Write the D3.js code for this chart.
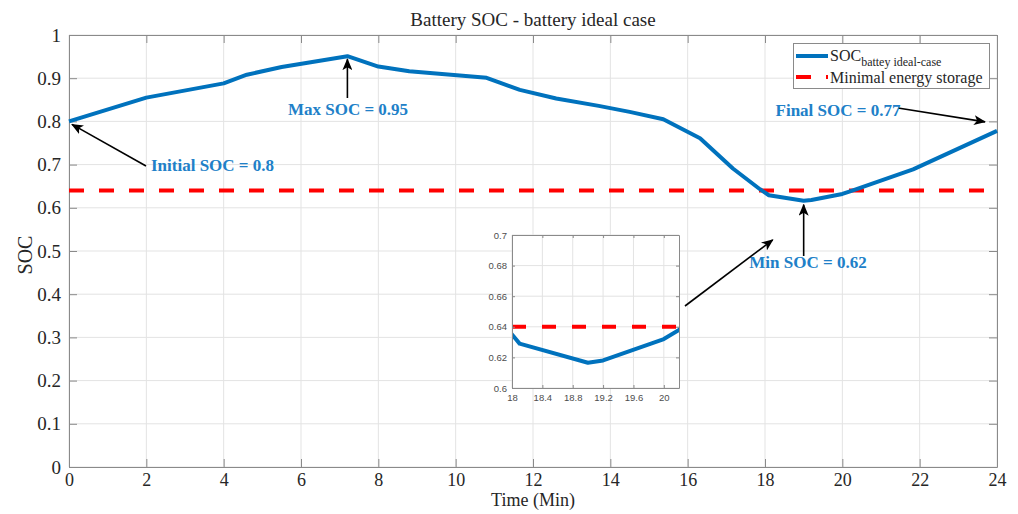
<!DOCTYPE html>
<html><head><meta charset="utf-8">
<script src="https://cdn.jsdelivr.net/npm/d3@7"></script>
<style>body{margin:0;background:#fff}svg{display:block}</style>
</head><body><svg id="c" width="1018" height="514"></svg>
<script>
const time = [0, 2, 4, 4.6, 5.5, 7.2, 8, 8.8, 10.8, 11.14, 11.66, 12.6, 13.7, 14.5, 15.37, 16.32, 17.17, 17.87, 18.0, 18.1, 19.0, 19.2, 20.0, 20.2, 21.83, 24];
const soc  = [0.8, 0.855, 0.888, 0.908, 0.926, 0.951, 0.927, 0.916, 0.901, 0.89, 0.873, 0.853, 0.836, 0.822, 0.805, 0.761, 0.691, 0.643, 0.635, 0.629, 0.6165, 0.618, 0.632, 0.638, 0.689, 0.778];
const minStorage = 0.64;
const xTicks = [0, 2, 4, 6, 8, 10, 12, 14, 16, 18, 20, 22, 24];
const yTicks = [0, 0.1, 0.2, 0.3, 0.4, 0.5, 0.6, 0.7, 0.8, 0.9, 1];
const insetXTicks = [18, 18.4, 18.8, 19.2, 19.6, 20];
const insetYTicks = [0.6, 0.62, 0.64, 0.66, 0.68, 0.7];
const annotations = [
  {text: "Initial SOC = 0.8", t: 0, v: 0.8},
  {text: "Max SOC = 0.95", t: 7.2, v: 0.951},
  {text: "Final SOC = 0.77", t: 24, v: 0.778},
  {text: "Min SOC = 0.62", t: 19.0, v: 0.6165}
];

const svg = d3.select("#c");
const serif = "'Liberation Serif','DejaVu Serif',serif";
const blue = "#0072BD", red = "#FF0000", axisCol = "#8a8a8a", gridCol = "#e3e3e3";
const L = 69, R = 997, T = 35, B = 467;
const x = d3.scaleLinear().domain([0, 24]).range([L, R]);
const y = d3.scaleLinear().domain([0, 1]).range([B, T]);

// grid
const g = svg.append("g");
g.selectAll(".gx").data(xTicks).join("line").attr("x1", d => x(d)).attr("x2", d => x(d))
  .attr("y1", T).attr("y2", B).attr("stroke", gridCol);
g.selectAll(".gy").data(yTicks).join("line").attr("y1", d => y(d)).attr("y2", d => y(d))
  .attr("x1", L).attr("x2", R).attr("stroke", gridCol);

// axes (inward ticks)
function styleAxis(sel, fs){ sel.select(".domain").attr("stroke", axisCol); sel.selectAll(".tick line").attr("stroke", axisCol);
  sel.selectAll("text").attr("fill", "#262626").attr("font-family", serif).attr("font-size", fs || 19); }
const xa = svg.append("g").attr("transform", `translate(0,${B})`)
  .call(d3.axisBottom(x).tickValues(xTicks).tickSize(-8).tickPadding(6).tickFormat(d3.format("d")).tickSizeOuter(0));
styleAxis(xa, 18);
const ya = svg.append("g").attr("transform", `translate(${L},0)`)
  .call(d3.axisLeft(y).tickValues(yTicks).tickSize(-8).tickPadding(8).tickFormat(d => d === 0 || d === 1 ? d3.format("d")(d) : d3.format(".1f")(d)).tickSizeOuter(0));
styleAxis(ya);
svg.append("g").attr("transform", `translate(0,${T})`)
  .call(d3.axisTop(x).tickValues(xTicks).tickSize(-8).tickFormat("").tickSizeOuter(0)).call(styleAxis);
svg.append("g").attr("transform", `translate(${R},0)`)
  .call(d3.axisRight(y).tickValues(yTicks).tickSize(-8).tickFormat("").tickSizeOuter(0)).call(styleAxis);

// lines
const line = d3.line().x((d, i) => x(time[i])).y(d => y(d));
svg.append("line").attr("x1", x(0)).attr("x2", x(24)).attr("y1", y(minStorage)).attr("y2", y(minStorage))
  .attr("stroke", red).attr("stroke-width", 4).attr("stroke-dasharray", "15 15");
svg.append("path").datum(soc).attr("d", line).attr("fill", "none").attr("stroke", blue).attr("stroke-width", 4).attr("stroke-linejoin", "round");

// title & labels
svg.append("text").attr("x", 533).attr("y", 26).attr("text-anchor", "middle").attr("font-family", serif).attr("font-size", 19).attr("fill", "#262626").text("Battery SOC - battery ideal case");
svg.append("text").attr("x", 533).attr("y", 506).attr("text-anchor", "middle").attr("font-family", serif).attr("font-size", 18).attr("fill", "#262626").text("Time (Min)");
svg.append("text").attr("transform", "translate(32,255) rotate(-90)").attr("text-anchor", "middle").attr("font-family", serif).attr("font-size", 20).attr("fill", "#262626").text("SOC");

// arrow marker
const defs = svg.append("defs");
defs.append("marker").attr("id", "ah").attr("viewBox", "0 0 12 10").attr("refX", 11).attr("refY", 5)
  .attr("markerWidth", 12).attr("markerHeight", 10).attr("markerUnits", "userSpaceOnUse").attr("orient", "auto")
  .append("path").attr("d", "M0,0 L12,5 L0,10 L3,5 Z").attr("fill", "#000");

function arrow(x1, y1, x2, y2){
  svg.append("line").attr("x1", x1).attr("y1", y1).attr("x2", x2).attr("y2", y2)
    .attr("stroke", "#000").attr("stroke-width", 1.6).attr("marker-end", "url(#ah)");
}
function label(txt, xx, yy, anchor){
  svg.append("text").attr("x", xx).attr("y", yy).attr("text-anchor", anchor || "start").attr("font-family", serif)
    .attr("font-weight", "bold").attr("font-size", 17).attr("fill", "#2080C8").text(txt);
}
// Initial
arrow(146, 166, x(annotations[0].t) + 3, y(annotations[0].v) + 3);
label(annotations[0].text, 151, 171);
// Max
arrow(x(annotations[1].t), 98, x(annotations[1].t), y(annotations[1].v) + 3);
label(annotations[1].text, 348, 115, "middle");
// Final
arrow(898, 108, x(annotations[2].t) - 12, y(annotations[2].v) - 9);
label(annotations[2].text, 838, 116, "middle");
// Min
arrow(x(annotations[3].t), 256, x(annotations[3].t), y(annotations[3].v) + 4);
label(annotations[3].text, 808, 268, "middle");
// inset pointer
arrow(685, 306, x(18.2), y(0.6) + 32);

// legend
const lg = svg.append("g");
lg.append("rect").attr("x", 793.5).attr("y", 43.5).attr("width", 196).attr("height", 45).attr("fill", "#fff").attr("stroke", axisCol);
lg.append("line").attr("x1", 796).attr("x2", 828).attr("y1", 56).attr("y2", 56).attr("stroke", blue).attr("stroke-width", 4);
lg.append("line").attr("x1", 796).attr("x2", 828).attr("y1", 77).attr("y2", 77).attr("stroke", red).attr("stroke-width", 4).attr("stroke-dasharray", "15 15");
const t1 = lg.append("text").attr("x", 830).attr("y", 61).attr("font-family", serif).attr("font-size", 16).attr("fill", "#262626");
t1.append("tspan").text("SOC");
t1.append("tspan").attr("dy", 5).attr("font-size", 12).text("battey ideal-case");
lg.append("text").attr("x", 830).attr("y", 83).attr("font-family", serif).attr("font-size", 16).attr("fill", "#262626").text("Minimal energy storage");

// inset
const iL = 512, iR = 679, iT = 235, iB = 388;
const ix = d3.scaleLinear().domain([18, 20.2]).range([iL, iR]);
const iy = d3.scaleLinear().domain([0.6, 0.7]).range([iB, iT]);
const ins = svg.append("g");
ins.append("rect").attr("x", iL).attr("y", iT).attr("width", iR - iL).attr("height", iB - iT).attr("fill", "#fff");
ins.selectAll(".igx").data(insetXTicks).join("line").attr("x1", d => ix(d)).attr("x2", d => ix(d)).attr("y1", iT).attr("y2", iB).attr("stroke", gridCol);
ins.selectAll(".igy").data(insetYTicks).join("line").attr("y1", d => iy(d)).attr("y2", d => iy(d)).attr("x1", iL).attr("x2", iR).attr("stroke", gridCol);
defs.append("clipPath").attr("id", "ic").append("rect").attr("x", iL).attr("y", iT).attr("width", iR - iL).attr("height", iB - iT);
const iline = d3.line().x((d, i) => ix(time[i])).y(d => iy(d));
const inner = ins.append("g").attr("clip-path", "url(#ic)");
inner.append("line").attr("x1", iL).attr("x2", iR).attr("y1", iy(minStorage)).attr("y2", iy(minStorage))
  .attr("stroke", red).attr("stroke-width", 4).attr("stroke-dasharray", "14 16");
inner.append("path").datum(soc).attr("d", iline).attr("fill", "none").attr("stroke", blue).attr("stroke-width", 4).attr("stroke-linejoin", "round");
function styleI(sel){ sel.select(".domain").attr("stroke", axisCol); sel.selectAll(".tick line").attr("stroke", axisCol);
  sel.selectAll("text").attr("fill", "#4d4d4d").attr("font-family", "'Liberation Sans',Arial,sans-serif").attr("font-size", 9.5); }
ins.append("g").attr("transform", `translate(0,${iB})`).call(d3.axisBottom(ix).tickValues(insetXTicks).tickSize(-3).tickPadding(6).tickFormat(d => d3.format("")(+d.toFixed(1))).tickSizeOuter(0)).call(styleI);
ins.append("g").attr("transform", `translate(${iL},0)`).call(d3.axisLeft(iy).tickValues(insetYTicks).tickSize(-3).tickPadding(5).tickFormat(d => d3.format("")(+d.toFixed(2))).tickSizeOuter(0)).call(styleI);
ins.append("g").attr("transform", `translate(0,${iT})`).call(d3.axisTop(ix).tickValues(insetXTicks).tickSize(-3).tickFormat("").tickSizeOuter(0)).call(styleI);
ins.append("g").attr("transform", `translate(${iR},0)`).call(d3.axisRight(iy).tickValues(insetYTicks).tickSize(-3).tickFormat("").tickSizeOuter(0)).call(styleI);
</script></body></html>
